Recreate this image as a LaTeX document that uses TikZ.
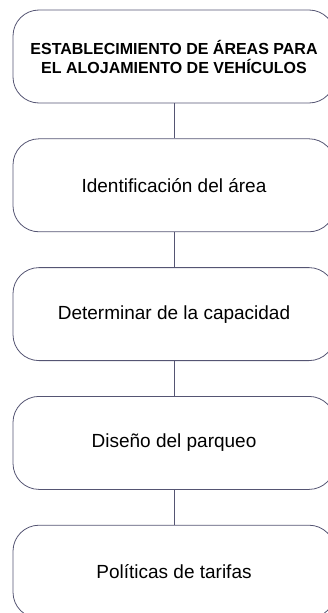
\documentclass[tikz,border=0pt]{standalone}
\usepackage{fontspec}
\setmainfont{Liberation Sans}
\usetikzlibrary{positioning}
\definecolor{edgeSlate}{RGB}{85,85,115}

\begin{document}
\begin{tikzpicture}[x=1pt, y=1pt,
  etapa/.style={rectangle, rounded corners=26pt, draw=edgeSlate,
                line width=0.8pt, minimum width=322pt,
                minimum height=93pt, align=center,
                font=\fontsize{19}{22}\selectfont},
  titulo/.style={etapa, font=\fontsize{16}{19}\selectfont\bfseries},
  link/.style={edgeSlate, line width=0.8pt},
  node distance=35pt
]
  \useasboundingbox (0,0) rectangle (327,-613);
  \node[titulo] (Est) at (174,-56.5)
    {ESTABLECIMIENTO DE ÁREAS PARA\\EL ALOJAMIENTO DE VEHÍCULOS};
  \node[etapa, below=of Est] (Ident) {Identificación del área};
  \node[etapa, below=of Ident] (Capac) {Determinar de la capacidad};
  \node[etapa, below=of Capac] (Disen) {Diseño del parqueo};
  \node[etapa, below=of Disen] (Tarif) {Políticas de tarifas};
  \draw[link] (Est.south) -- (Ident.north);
  \draw[link] (Ident.south) -- (Capac.north);
  \draw[link] (Capac.south) -- (Disen.north);
  \draw[link] (Disen.south) -- (Tarif.north);
\end{tikzpicture}
\end{document}
